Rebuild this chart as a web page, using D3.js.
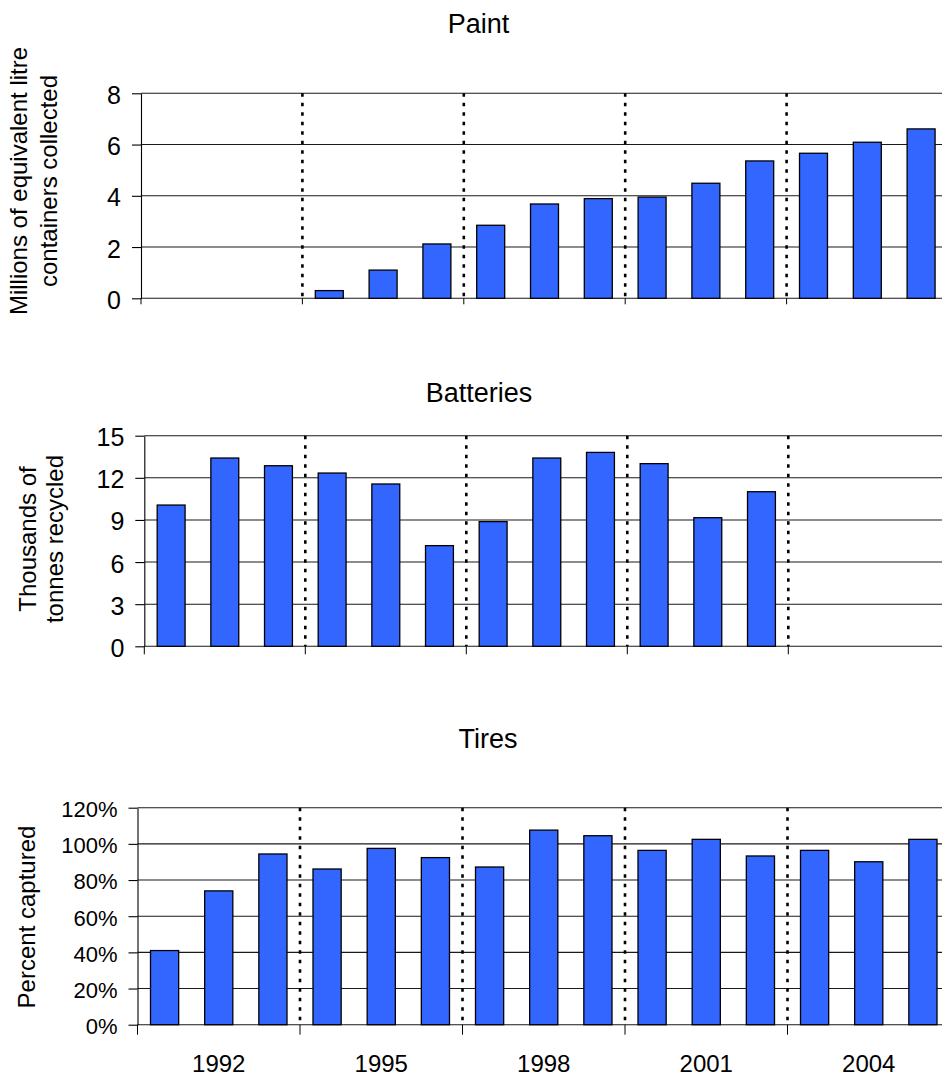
<!DOCTYPE html>
<html><head><meta charset="utf-8">
<script src="https://cdn.jsdelivr.net/npm/d3@7"></script>
<style>
body{margin:0;background:#fff}
svg{display:block}
text{font-family:"Liberation Sans",Arial,sans-serif;fill:#000}
</style>
</head><body><svg id="c" width="942" height="1078"></svg>
<script>
// ---- data ----
const years = ["1991","1992","1993","1994","1995","1996","1997","1998","1999","2000","2001","2002","2003","2004","2005"];
const paintValues = [null,null,null,0.30,1.10,2.12,2.85,3.68,3.89,3.95,4.49,5.36,5.66,6.09,6.61];
const batteryValues = [10.06,13.41,12.86,12.34,11.56,7.17,8.88,13.41,13.81,13.01,9.16,11.01,null,null,null];
const tireValues = [0.41,0.74,0.944,0.861,0.975,0.924,0.872,1.076,1.045,0.964,1.025,0.933,0.964,0.901,1.025];
const paintTicks = [0,2,4,6,8];
const batteryTicks = [0,3,6,9,12,15];
const tireTicks = [0,0.2,0.4,0.6,0.8,1.0,1.2];
const yearLabels = ["1992","1995","1998","2001","2004"];
const groupBoundaries = [0,3,6,9,12,15];
const dividerBoundaries = [3,6,9,12];
const titles = ["Paint","Batteries","Tires"];
const yTitles = [["Millions of equivalent litre","containers collected"],["Thousands of","tonnes recycled"],["Percent captured"]];

// ---- layout ----
const W = 942, H = 1078;
const svg = d3.select("#c");
const BAR = "#3366FF";

const panels = [
  {title:titles[0], values:paintValues, ticks:paintTicks, fmt:d3.format("d"),
   left:141, right:948, top:93.3, bottom:298.3, tickFont:25, xTickLen:6,
   titleX:478.5, titleY:32.5, yTitle:yTitles[0], yTitleX:[27,57], yTitleY:181, xLabels:false},
  {title:titles[1], values:batteryValues, ticks:batteryTicks, fmt:d3.format("d"),
   left:144.3, right:949.3, top:435.7, bottom:646.3, tickFont:25, xTickLen:8,
   titleX:479, titleY:401.5, yTitle:yTitles[1], yTitleX:[36,63], yTitleY:539, xLabels:false},
  {title:titles[2], values:tireValues, ticks:tireTicks, fmt:d3.format(".0%"),
   left:137.5, right:950, top:807.7, bottom:1024.7, tickFont:22, xTickLen:10,
   titleX:488, titleY:748.3, yTitle:yTitles[2], yTitleX:[35], yTitleY:917, xLabels:true}
];

panels.forEach(p => {
  const g = svg.append("g");
  const yMax = d3.max(p.ticks);
  const x = d3.scaleBand().domain(years).range([p.left, p.right]).paddingInner(0.48).paddingOuter(0.24);
  const bx = d3.scaleLinear().domain([0, years.length]).range([p.left, p.right]);
  const y = d3.scaleLinear().domain([0, yMax]).range([p.bottom, p.top]);

  // title
  g.append("text").attr("x", p.titleX).attr("y", p.titleY).attr("text-anchor","middle")
    .style("font-size","27px").text(p.title);

  // y title (rotated)
  p.yTitle.forEach((t,i) => {
    g.append("text").attr("transform", `translate(${p.yTitleX[i]},${p.yTitleY}) rotate(-90)`)
      .attr("text-anchor","middle").style("font-size","24px").text(t);
  });

  // gridlines
  g.append("g").selectAll("line").data(p.ticks).join("line")
    .attr("x1", p.left).attr("x2", W).attr("y1", d => y(d)).attr("y2", d => y(d))
    .attr("stroke", "#1a1a1a").attr("stroke-width", 1.1);

  // dotted dividers
  g.append("g").selectAll("line").data(dividerBoundaries).join("line")
    .attr("x1", d => bx(d)).attr("x2", d => bx(d)).attr("y1", p.top).attr("y2", p.bottom)
    .attr("stroke", "#000").attr("stroke-width", 2.6).attr("stroke-dasharray", "3.5 6");

  // bars
  const data = years.map((yr,i) => ({yr, v:p.values[i]})).filter(d => d.v != null);
  g.append("g").selectAll("rect").data(data).join("rect")
    .attr("x", d => x(d.yr)).attr("width", x.bandwidth())
    .attr("y", d => y(d.v)).attr("height", d => p.bottom - y(d.v))
    .attr("fill", BAR).attr("stroke", "#000").attr("stroke-width", 1.3);

  // x ticks at group boundaries
  g.append("g").selectAll("line").data(groupBoundaries).join("line")
    .attr("x1", d => bx(d)).attr("x2", d => bx(d)).attr("y1", p.bottom).attr("y2", p.bottom + p.xTickLen)
    .attr("stroke", "#000").attr("stroke-width", 1);

  // y axis
  const ax = g.append("g").attr("transform", `translate(${p.left},0)`)
    .call(d3.axisLeft(y).tickValues(p.ticks).tickFormat(p.fmt).tickSize(9).tickSizeOuter(0).tickPadding(11));
  ax.select(".domain").attr("stroke", "#000").attr("stroke-width", 1.1);
  ax.selectAll(".tick line").attr("stroke", "#000").attr("stroke-width", 1.1);
  ax.selectAll(".tick text").attr("dy","0.4em").style("font-size", p.tickFont + "px")
    .style("font-family", '"Liberation Sans",Arial,sans-serif');

  // x labels
  if (p.xLabels) {
    g.append("g").selectAll("text").data(yearLabels).join("text")
      .attr("x", d => x(d) + x.bandwidth()/2).attr("y", 1072)
      .attr("text-anchor","middle").style("font-size","24px").text(d => d);
  }
});
</script>
</body></html>
